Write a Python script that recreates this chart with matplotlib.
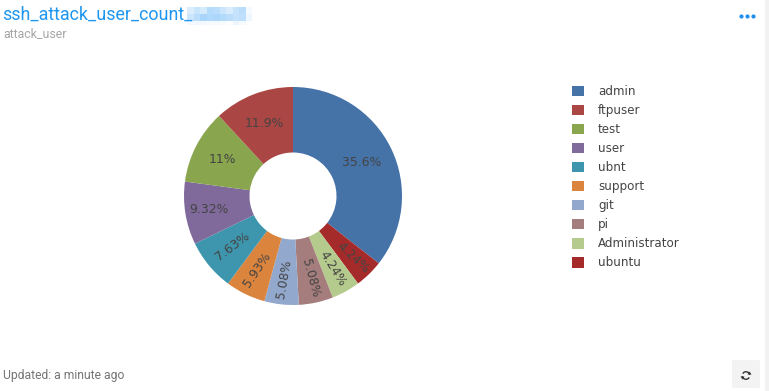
"""Recreate the ssh_attack_user_count donut panel."""

import matplotlib

matplotlib.use("Agg")
import matplotlib.pyplot as plt
import numpy as np
from matplotlib.patches import Arc, FancyBboxPatch, Polygon, Rectangle

WIDTH = 769
HEIGHT = 391
DPI = 100

# Legend order. Slices run clockwise from the top: admin, then the rest reversed.
USERS = ["admin", "ftpuser", "test", "user", "ubnt", "support", "git", "pi", "Administrator", "ubuntu"]
COUNTS = [42, 14, 13, 11, 9, 7, 6, 6, 5, 5]
SHARE_LABELS = ["35.6%", "11.9%", "11%", "9.32%", "7.63%", "5.93%", "5.08%", "5.08%", "4.24%", "4.24%"]
COLORS = [
    "#4572A7", "#AA4643", "#89A54E", "#80699B", "#3D96AE",
    "#DB843D", "#92A8CD", "#A47D7C", "#B5CA8D", "#A52A2A",
]

# Label placement per slice, legend order: distance from centre (px) and rotation.
LABEL_RADII = [76, 78, 80, 85, 79, 82, 84, 84, 83, 86]
LABEL_ROTATIONS = [0, 0, 0, 0, 37, 56, 80, -75, -58, -43]

OUTER_RADIUS = 109
INNER_RADIUS = 43.5

# Pale tints of the redacted part of the title, one row per band.
BLUR_TOP = ["#DCEEFD", "#C9E5FC", "#D4EAFD", "#B5DBFB", "#B9DDFB", "#CBE6FC", "#D9ECFD", "#C6E3FC", "#B9DDFB", "#F4FAFF"]
BLUR_MID = ["#CBE6FC", "#B9DDFB", "#A9D5FA", "#B0D9FB", "#ADD7FA", "#B2DAFB", "#B9DDFB", "#C4E2FC", "#BEE0FC", "#EEF7FF"]
BLUR_LOW = ["#F3F9FF", "#F1F8FF", "#F3F9FF", "#F5FAFF", "#F5FAFF", "#F7FBFF", "#FBFDFF", "#EDF6FF", "#F5FAFF", "#FDFEFF"]

TEXT_COLOR = "#444444"
TITLE_COLOR = "#1E96F0"


def px_rect(left, top, right, bottom):
    """Figure-fraction rectangle from pixel edges."""
    return [left / WIDTH, 1 - bottom / HEIGHT, (right - left) / WIDTH, (bottom - top) / HEIGHT]


def draw_page(ax):
    ax.add_patch(Rectangle((765, 0), 4, HEIGHT, color="#F2F2F2", lw=0))

    ax.text(2.5, 14.5, "ssh_attack_user_count_", family="Roboto", fontsize=12.9,
            color=TITLE_COLOR, va="center", ha="left")
    for tints, top, height in ((BLUR_TOP, 7, 7), (BLUR_MID, 14, 7), (BLUR_LOW, 21, 4)):
        for i, tint in enumerate(tints):
            ax.add_patch(Rectangle((187 + i * 6.5, top), 6.5, height, color=tint, lw=0))
    ax.text(3, 33.5, "attack_user", family="Roboto", fontsize=8.9,
            color="#A6A6A6", va="center", ha="left")
    ax.text(3, 376, "Updated: a minute ago", family="Roboto", fontsize=8.75,
            color="#757575", va="center", ha="left")

    # three dots menu
    for x in (741, 747, 753):
        ax.plot(x, 16, "o", color="#1E90F0", ms=3.0, mew=0)

    # refresh button
    ax.add_patch(FancyBboxPatch((732, 360), 28, 28, boxstyle="round,pad=0,rounding_size=2",
                                fc="#F3F3F3", ec="none"))
    ax.add_patch(Arc((746, 375.5), 7.5, 7.5, theta1=30, theta2=170, color="#333333", lw=1))
    ax.add_patch(Arc((746, 375.5), 7.5, 7.5, theta1=210, theta2=350, color="#333333", lw=1))
    ax.add_patch(Polygon([(747.5, 374.5), (751.5, 374.5), (749.5, 371.5)], color="#333333", lw=0))
    ax.add_patch(Polygon([(744.5, 376.5), (740.5, 376.5), (742.5, 379.5)], color="#333333", lw=0))


def draw_donut(ax):
    order = [0] + list(range(len(USERS) - 1, 0, -1))
    wedges, _ = ax.pie(
        [COUNTS[i] for i in order],
        colors=[COLORS[i] for i in order],
        startangle=90,
        counterclock=False,
        radius=1,
        wedgeprops={"width": 1 - INNER_RADIUS / OUTER_RADIUS, "linewidth": 0},
    )
    ax.set_xlim(-1, 1)
    ax.set_ylim(-1, 1)

    for wedge, i in zip(wedges, order):
        mid = np.deg2rad((wedge.theta1 + wedge.theta2) / 2)
        r = LABEL_RADII[i] / OUTER_RADIUS
        ax.text(r * np.cos(mid), r * np.sin(mid), SHARE_LABELS[i],
                family="DejaVu Sans", fontsize=8.9, color=TEXT_COLOR,
                ha="center", va="center", rotation=LABEL_ROTATIONS[i], rotation_mode="anchor")


def main():
    fig = plt.figure(figsize=(WIDTH / DPI, HEIGHT / DPI), dpi=DPI, facecolor="white")

    page = fig.add_axes([0, 0, 1, 1])
    page.set_xlim(0, WIDTH)
    page.set_ylim(HEIGHT, 0)
    page.axis("off")
    draw_page(page)

    donut = fig.add_axes(px_rect(184, 87, 402, 305))
    draw_donut(donut)

    handles = [Rectangle((0, 0), 1, 1, color=color, lw=0) for color in COLORS]
    fig.legend(
        handles, USERS,
        loc="upper left",
        bbox_to_anchor=(572 / WIDTH, 1 - 85 / HEIGHT),
        frameon=False,
        prop={"family": "DejaVu Sans", "size": 8.6},
        labelcolor=TEXT_COLOR,
        handlelength=1.0,
        handleheight=1.0,
        handletextpad=1.17,
        labelspacing=0.505,
        borderpad=0,
        borderaxespad=0,
    )

    fig.savefig("out.png", dpi=DPI)
    plt.close(fig)


if __name__ == "__main__":
    main()
